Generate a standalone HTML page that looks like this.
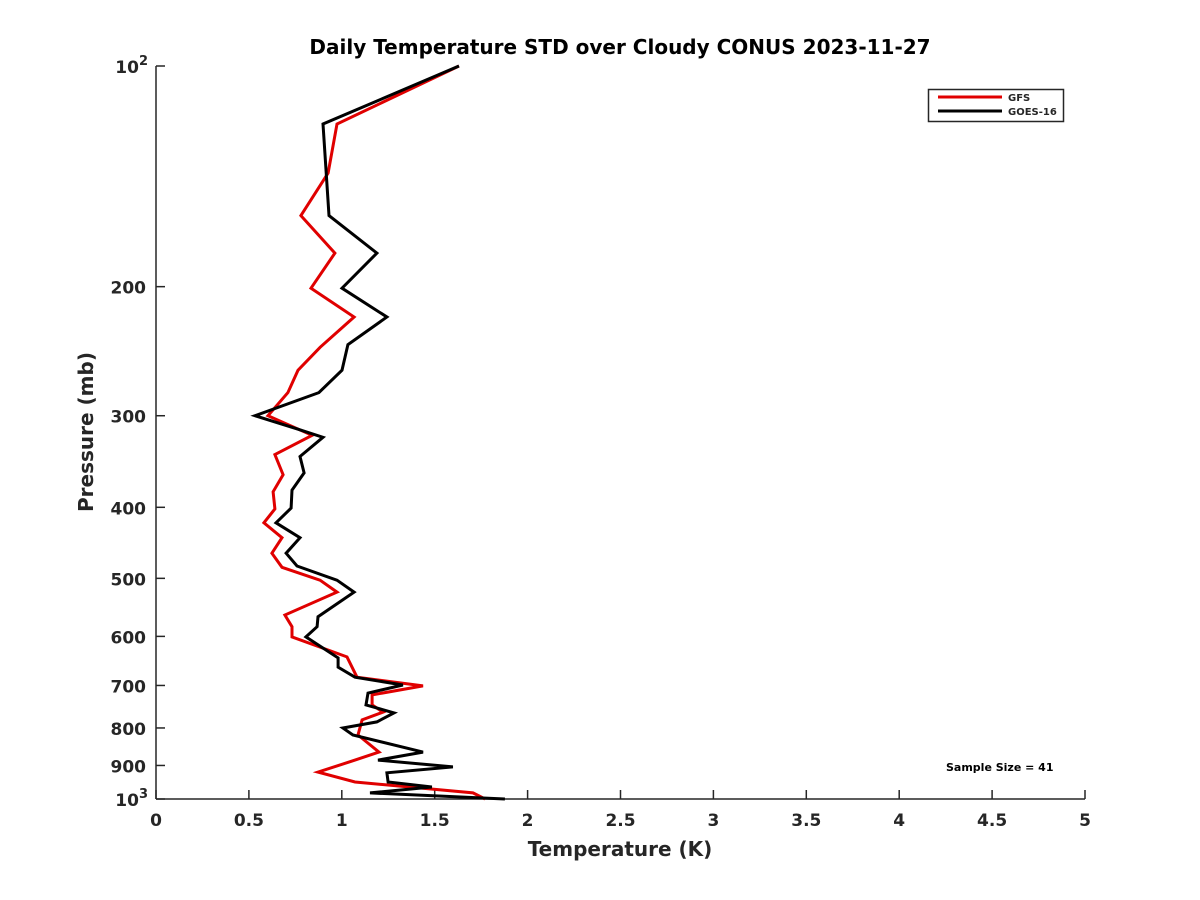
<!DOCTYPE html>
<html><head><meta charset="utf-8"><style>
body{margin:0;background:#fff;}
svg{display:block;font-family:"DejaVu Sans","Liberation Sans",sans-serif;font-weight:bold;}
</style></head><body>
<svg id="chart" width="1200" height="900" viewBox="0 0 1200 900">
<rect width="1200" height="900" fill="#fff"/>
<text x="620" y="54" text-anchor="middle" font-size="20" fill="#000">Daily Temperature STD over Cloudy CONUS 2023-11-27</text>
<g id="axes"></g>
<g id="series"></g>
<text x="620" y="856" text-anchor="middle" font-size="20" fill="#262626">Temperature (K)</text>
<text transform="translate(93,432) rotate(-90)" text-anchor="middle" font-size="20" fill="#262626">Pressure (mb)</text>
<g>
<rect x="928.5" y="89.5" width="135" height="32" fill="#fff" stroke="#262626" stroke-width="1.5"/>
<line x1="938" y1="97" x2="1002" y2="97" stroke="#e00000" stroke-width="3"/>
<text x="1008" y="101" font-size="10" fill="#262626">GFS</text>
<line x1="938" y1="111" x2="1002" y2="111" stroke="#000" stroke-width="3"/>
<text x="1008" y="115" font-size="10" fill="#262626">GOES-16</text>
</g>
<text x="946" y="771" font-size="11" fill="#000">Sample Size = 41</text>
</svg>
<script>
const xTicks=[0,0.5,1,1.5,2,2.5,3,3.5,4,4.5,5];
const xTickLabels=["0","0.5","1","1.5","2","2.5","3","3.5","4","4.5","5"];
const yTicks=[100,200,300,400,500,600,700,800,900,1000];
const gfsPressure=[100,120,140,160,180,201,220,242,260,279,300,319,339,361,381,402,420,440,462,483,503,522,561,582,601,640,682,701,721,744,761,780,818,863,885,919,948,981,1000];
const gfsTemp=[1.631,0.974,0.926,0.780,0.963,0.834,1.066,0.883,0.764,0.710,0.603,0.840,0.640,0.684,0.630,0.640,0.581,0.678,0.624,0.678,0.883,0.974,0.694,0.732,0.732,1.028,1.082,1.437,1.163,1.163,1.222,1.109,1.087,1.200,1.071,0.872,1.071,1.706,1.771];
const goesPressure=[100,120,160,180,201,220,240,260,279,300,313,321,341,359,379,401,420,440,462,481,503,522,564,582,601,642,661,682,699,717,744,763,785,800,818,863,885,904,921,948,963,981,1000];
const goesTemp=[1.631,0.899,0.931,1.189,1.001,1.243,1.033,1.001,0.877,0.533,0.764,0.899,0.775,0.797,0.732,0.727,0.646,0.775,0.700,0.759,0.974,1.066,0.872,0.867,0.807,0.980,0.980,1.071,1.329,1.141,1.130,1.281,1.189,1.006,1.060,1.437,1.195,1.598,1.243,1.249,1.485,1.152,1.878];
const X0=156,X1=1085,Y0=66,Y1=799;
const xs=t=>X0+(t-0)/(5-0)*(X1-X0);
const ys=p=>Y0+Math.log10(p/100)*(Y1-Y0);
const NS="http://www.w3.org/2000/svg";
const axes=document.getElementById('axes');
const series=document.getElementById('series');
function mk(tag,attrs,parent){const e=document.createElementNS(NS,tag);for(const k in attrs)e.setAttribute(k,attrs[k]);parent.appendChild(e);return e;}
const yl=mk('line',{x1:X0,y1:Y0,x2:X0,y2:Y1,stroke:'#262626','stroke-width':1.5},axes);


const xl=mk('line',{x1:X0,y1:Y1,x2:X1,y2:Y1,stroke:'#262626','stroke-width':1.5},axes);


xTicks.forEach((t,i)=>{
  const tk=mk('line',{x1:xs(t),y1:Y1,x2:xs(t),y2:Y1-9,stroke:'#262626','stroke-width':1.5},axes);
  
  
  const tx=mk('text',{x:xs(t),y:Y1+27,'text-anchor':'middle','font-size':17,fill:'#262626'},axes);
  tx.textContent=xTickLabels[i];
  
  
});
yTicks.forEach(p=>{
  const y=ys(p);
  const tk=mk('line',{x1:X0,y1:y,x2:X0+9,y2:y,stroke:'#262626','stroke-width':1.5},axes);
  
  
  const tx=mk('text',{x:X0-10,y:y+7,'text-anchor':'end','font-size':17,fill:'#262626'},axes);
  if(p===100||p===1000){
    tx.setAttribute('x',X0-8);
    tx.textContent='10';
    const sp=mk('tspan',{dy:-8,'font-size':13},tx);
    sp.textContent=p===100?'2':'3';
  } else tx.textContent=String(p);
  
  
});
function line(P,T,color,name){
  const pts=P.map((p,i)=>xs(T[i]).toFixed(1)+','+ys(p).toFixed(1)).join(' ');
  const pl=mk('polyline',{points:pts,fill:'none',stroke:color,'stroke-width':3,'stroke-linejoin':'miter'},series);
  
  
}
line(gfsPressure,gfsTemp,'#e00000','gfs-line');
line(goesPressure,goesTemp,'#000000','goes16-line');
</script>
</body></html>
